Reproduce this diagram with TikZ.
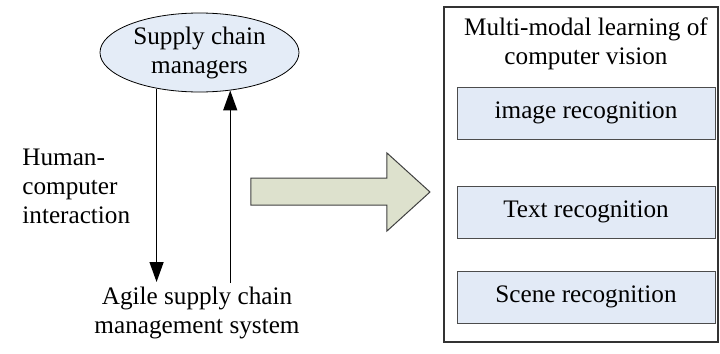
\documentclass[tikz,border=0pt]{standalone}
\usepackage{fontspec}
\setmainfont{Liberation Serif}
\usepackage{xcolor}
\usetikzlibrary{arrows.meta,positioning,shapes.geometric}

\definecolor{mgrblue}{RGB}{228,236,247}
\definecolor{boxblue}{RGB}{226,234,246}
\definecolor{arrowgreen}{RGB}{221,225,205}

\begin{document}
\begin{tikzpicture}[
    x=0.5pt, y=-0.5pt,
    node distance=49.5pt,
    font=\fontsize{12.6}{14.5}\selectfont,
    >={Triangle[length=10pt,width=7pt]},
    manager/.style={
		ellipse,
		draw=black,
		fill=mgrblue,
		align=center,
		inner sep=0pt,
		minimum width=99.5pt,
		minimum height=39.5pt
	},
	recog/.style={
		rectangle,
		draw=black!70,
		fill=boxblue,
		minimum width=129pt,
		minimum height=26pt
	},
	plain/.style={
		align=center,
		inner sep=0pt
	},
	flow/.style={
		line width=0.7pt
	}
  ]

% // The box on the right
\draw [black!80, line width=0.7pt] (444,7) rectangle (718,342);
\node [plain] (vision) at (586,44) {Multi-modal learning of\\computer vision};
\node [recog] (image) at (586,113) {image recognition};
\node [recog, below of=image] (text) {Text recognition};
\node [recog, below of=text, yshift=7pt] (scene) {Scene recognition};

% // The managers and the system
\node [manager] (manager) at (199.5,52.5) {Supply chain\\managers};
\node [plain] (system) at (197,313) {Agile supply chain\\management system};
\node [plain, align=left, anchor=west] (hci) at (22,186) {Human-\\computer\\interaction};

\coordinate (dntip) at (158,282);
\coordinate (upend) at (230,283);
\draw [flow, ->] (manager.220.9) -- (manager.220.9 |- dntip);
\draw [flow, ->] (manager.309 |- upend) -- (manager.309);

% // The big arrow
\draw [black!75, fill=arrowgreen, line width=0.5pt]
  (251,178) -- (387,178) -- (387,153) -- (430,192)
  -- (387,231) -- (387,205) -- (251,205) -- cycle;

\useasboundingbox (0,0) rectangle (720,354);
\end{tikzpicture}
\end{document}
